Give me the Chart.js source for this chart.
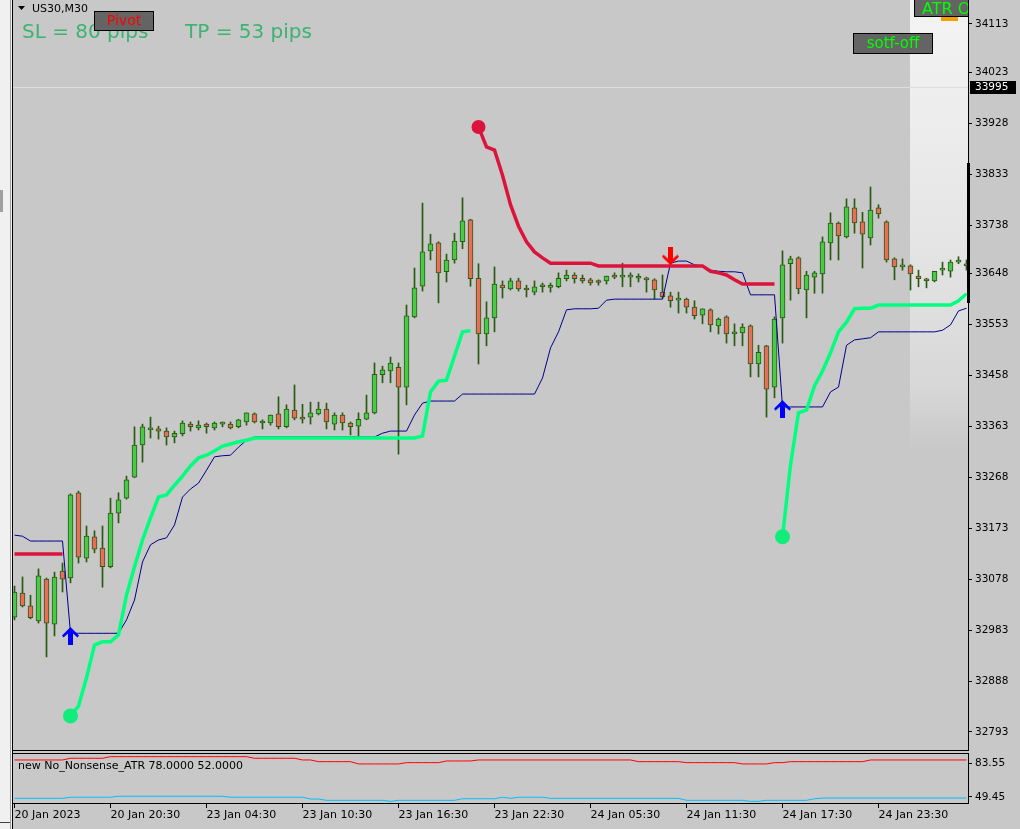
<!DOCTYPE html>
<html>
<head>
<meta charset="utf-8">
<script src="https://cdn.jsdelivr.net/npm/chart.js@4.4.1/dist/chart.umd.min.js"></script>
<style>
  html, body { margin: 0; padding: 0; background: #c8c8c8; width: 1020px; height: 829px; overflow: hidden; }
  canvas { position: absolute; left: 0; display: block; }
  #main { top: 0; }
  #atr { top: 752px; }
</style>
</head>
<body>
<canvas id="main" width="1020" height="752"></canvas>
<canvas id="atr" width="1020" height="77"></canvas>
<script>
// US30 M30 candles, one per bar (bar 0 = 20 Jan 14:30)
const open = [33007,33052,33028,33000,33078,32994,33093,33080,33239,33117,
  33157,33136,33101,33201,33229,33268,33328,33356,33358,33354,
  33343,33349,33367,33360,33367,33360,33367,33367,33362,33371,
  33386,33369,33369,33386,33362,33393,33380,33380,33386,33395,
  33367,33384,33369,33363,33376,33388,33459,33466,33473,33436,
  33567,33624,33690,33705,33651,33673,33707,33748,33639,33535,
  33565,33626,33619,33634,33619,33613,33623,33622,33623,33638,
  33645,33639,33636,33632,33634,33645,33641,33641,33639,33639,
  33636,33613,33606,33598,33600,33585,33570,33580,33550,33567,
  33535,33537,33550,33479,33513,33436,33565,33666,33677,33617,
  33641,33647,33705,33742,33716,33770,33744,33714,33770,33744,
  33675,33660,33662,33643,33638,33634,33654,33652,33669,33666];
const high = [33065,33082,33048,33097,33080,33091,33108,33237,33242,33177,
  33168,33177,33229,33239,33270,33362,33367,33380,33363,33360,
  33354,33373,33371,33373,33369,33371,33371,33371,33376,33388,
  33388,33375,33384,33418,33403,33440,33404,33408,33408,33406,
  33388,33388,33371,33388,33421,33481,33475,33492,33481,33589,
  33658,33779,33721,33707,33684,33723,33789,33749,33666,33595,
  33660,33634,33639,33639,33626,33634,33630,33630,33649,33654,
  33649,33645,33639,33636,33643,33649,33667,33649,33647,33641,
  33638,33645,33613,33613,33602,33597,33582,33582,33565,33569,
  33554,33554,33552,33514,33514,33567,33690,33680,33679,33652,
  33652,33716,33761,33744,33787,33787,33762,33809,33776,33746,
  33677,33675,33664,33654,33639,33652,33669,33673,33679,33673];
const low = [33002,33026,33004,32996,32933,32972,33054,33071,33108,33110,
  33127,33063,33099,33183,33227,33267,33296,33341,33339,33328,
  33332,33345,33354,33356,33350,33356,33362,33358,33360,33365,
  33369,33358,33365,33358,33360,33375,33369,33367,33384,33358,
  33356,33356,33347,33345,33375,33386,33444,33444,33311,33403,
  33565,33615,33673,33593,33632,33667,33694,33624,33479,33513,
  33539,33602,33617,33615,33604,33608,33613,33613,33621,33634,
  33630,33630,33626,33626,33628,33638,33623,33623,33632,33613,
  33600,33602,33585,33574,33574,33563,33554,33539,33535,33518,
  33513,33513,33455,33455,33380,33416,33518,33598,33610,33565,
  33611,33611,33673,33673,33714,33723,33658,33701,33751,33669,
  33636,33654,33617,33623,33621,33632,33645,33641,33666,33654];
const close = [33054,33028,33006,33084,32996,33082,33078,33235,33119,33158,
  33134,33101,33201,33226,33263,33328,33362,33360,33354,33343,
  33350,33369,33362,33365,33362,33369,33368,33360,33375,33388,
  33371,33369,33384,33362,33395,33378,33376,33388,33395,33371,
  33384,33369,33362,33376,33388,33460,33468,33481,33436,33569,
  33621,33688,33703,33649,33673,33708,33746,33638,33535,33565,
  33628,33621,33634,33619,33617,33623,33624,33624,33639,33645,
  33638,33634,33630,33631,33643,33641,33645,33642,33640,33636,
  33617,33604,33597,33599,33585,33569,33582,33552,33563,33535,
  33539,33548,33479,33501,33432,33563,33664,33675,33619,33645,
  33649,33707,33742,33718,33772,33742,33721,33766,33759,33673,
  33660,33661,33647,33638,33634,33652,33655,33669,33670,33662];

// trailing stop (thin blue)
const stopLine = [33160,33158,33149,33149,33149,33149,33149,32977,32977,32977,
  32977,32977,32977,32977,33002,33039,33110,33142,33151,33155,
  33179,33231,33246,33257,33281,33306,33308,33309,33324,33337,
  33343,33343,33343,33343,33343,33343,33343,33343,33343,33343,
  33343,33343,33343,33343,33343,33343,33350,33354,33354,33354,
  33384,33406,33410,33410,33410,33410,33423,33423,33423,33423,
  33423,33423,33423,33423,33423,33423,33453,33509,33539,33580,
  33582,33582,33582,33583,33598,33600,33600,33600,33600,33600,
  33600,33600,33667,33671,33671,33664,33662,33654,33652,33651,
  33651,33649,33608,33608,33608,33608,33399,33399,33399,33399,
  33399,33399,33427,33436,33514,33524,33526,33528,33539,33539,
  33539,33539,33539,33539,33539,33539,33542,33552,33578,33583];

// up trend line (green), down trend line (red)
const upTrend = [null,null,null,null,null,null,null,32823,32841,32894,
  32955,32961,32961,32974,33048,33101,33151,33192,33231,33235,
  33253,33270,33289,33304,33309,33317,33326,33330,33334,33337,
  33341,33341,33341,33341,33341,33341,33341,33341,33341,33341,
  33341,33341,33341,33341,33341,33341,33341,33341,33341,33341,
  33341,33345,33427,33447,33449,33494,33539,33541,null,null,
  null,null,null,null,null,null,null,null,null,null,
  null,null,null,null,null,null,null,null,null,null,
  null,null,null,null,null,null,null,null,null,null,
  null,null,null,null,null,null,33157,33291,33388,33393,
  33438,33466,33500,33539,33557,33582,33583,33583,33589,33589,
  33589,33589,33589,33589,33589,33589,33589,33589,33597,33610];
const downTrend = [33125,33125,33125,33125,33125,33125,33125,null,null,null,
  null,null,null,null,null,null,null,null,null,null,
  null,null,null,null,null,null,null,null,null,null,
  null,null,null,null,null,null,null,null,null,null,
  null,null,null,null,null,null,null,null,null,null,
  null,null,null,null,null,null,null,null,33921,33884,
  33878,33831,33776,33736,33707,33688,33677,33667,33667,33667,
  33667,33667,33667,33662,33662,33662,33662,33662,33662,33662,
  33662,33662,33662,33662,33662,33662,33662,33652,33649,33645,
  33636,33628,33628,33628,33628,33628,null,null,null,null,
  null,null,null,null,null,null,null,null,null,null,
  null,null,null,null,null,null,null,null,null,null];
const upTrendStarts = [7, 96];
const downTrendStarts = [58];

const buyArrowBars = [7, 96];
const buyArrowVals = [32972, 33395];
const sellArrowBars = [82];
const sellArrowVals = [33680];

// No_Nonsense_ATR sub window
const atrUpper = [86.6,86.6,86.6,86.6,86.6,86.6,86.6,88.3,88.3,88.3,
  88.3,88.3,89.9,89.9,89.9,89.9,89.9,89.9,89.9,89.9,
  89.9,89.9,89.9,89.9,89.9,89.9,89.9,89.9,89.9,89.9,
  88.3,88.3,88.3,88.3,88.3,88.3,86.6,86.6,84.9,84.9,
  84.9,84.9,84.9,82.6,82.6,82.6,82.6,82.6,82.6,83.9,
  83.9,83.9,83.9,83.9,85.6,85.6,85.6,85.6,86.6,86.6,
  86.6,86.6,86.6,86.6,86.6,86.6,86.6,86.6,86.6,86.6,
  86.6,86.6,86.6,86.6,86.6,86.6,86.6,86.6,84.9,84.9,
  84.9,84.9,84.9,84.9,83.9,83.9,83.9,83.9,83.9,83.9,
  83.9,82.6,82.6,82.6,82.6,83.9,83.9,84.9,84.9,84.9,
  84.9,84.9,84.9,84.9,84.9,84.9,84.9,86.6,86.6,86.6,
  86.6,86.6,86.6,86.6,86.6,86.6,86.6,86.6,86.6,86.6];
const atrLower = [48.1,48.1,48.1,48.1,48.1,48.1,48.1,49.2,49.2,49.2,
  49.2,49.2,49.2,50.2,50.2,50.2,50.2,50.2,50.2,50.2,
  50.2,50.2,50.2,50.2,50.2,50.2,50.2,49.2,49.2,49.2,
  49.2,49.2,49.2,49.2,49.2,49.2,49.2,47.4,47.4,46.1,
  46.1,46.1,46.1,46.1,46.1,46.1,46.1,45.1,46.1,46.1,
  46.1,46.1,46.1,46.1,46.1,46.1,47.7,47.7,47.7,47.7,
  47.7,49.2,48.1,49.2,49.2,49.2,49.2,48.1,48.1,48.1,
  48.1,48.1,48.1,48.1,48.1,48.1,48.1,48.1,48.1,48.1,
  48.1,48.1,48.1,48.1,46.1,46.1,46.1,46.1,46.1,46.1,
  46.1,46.1,45.1,45.1,46.1,46.1,46.1,46.1,46.1,46.1,
  47.7,48.4,48.4,48.4,48.4,48.4,48.4,48.4,48.4,48.4,
  48.4,48.4,48.4,48.4,48.4,48.4,48.4,48.4,48.4,48.4];

const priceTicks = [32793, 32888, 32983, 33078, 33173, 33268, 33363, 33458, 33553, 33648, 33738, 33833, 33928, 34023, 34113];
const atrTicks = [49.45, 83.55];
const timeTickBars = [0, 12, 24, 36, 48, 60, 72, 84, 96, 108];
const timeLabels = ['20 Jan 2023', '20 Jan 20:30', '23 Jan 04:30', '23 Jan 10:30', '23 Jan 16:30',
  '23 Jan 22:30', '24 Jan 05:30', '24 Jan 11:30', '24 Jan 17:30', '24 Jan 23:30'];
const bidPrice = 33995;

Chart.defaults.font.family = "'DejaVu Sans', sans-serif";
Chart.defaults.color = '#000';

const xMin = -0.1875, xMax = 119.1875;
const FONT = "'DejaVu Sans', sans-serif";
const bullFill = '#4ac84a', bearFill = '#e86e5a', candleLine = '#2a5a10';

function arrowImg(color, up) {
  const c = document.createElement('canvas');
  c.width = 17; c.height = 18;
  const g = c.getContext('2d');
  const pts = [[8.5,0],[17,8.5],[15.5,10.5],[11,6.5],[11,18],[6,18],[6,6.5],[1.5,10.5],[0,8.5]];
  g.fillStyle = color;
  g.beginPath();
  pts.forEach(([px, py], k) => {
    const yy = up ? py : 18 - py;
    if (k === 0) g.moveTo(px, yy); else g.lineTo(px, yy);
  });
  g.closePath();
  g.fill();
  return c;
}

function toXY(arr) { return arr.map((v, i) => ({x: i, y: v})); }

function leftStrip(ctx, h) {
  ctx.fillStyle = '#f0f0f0'; ctx.fillRect(0, 0, 12, h);
  ctx.fillStyle = '#a0a0a0'; ctx.fillRect(10, 0, 1, h);
  ctx.fillStyle = '#000'; ctx.fillRect(12, 0, 1, h);
}

function button(ctx, x, y, w, h, text, color, size, tx, ty, align) {
  ctx.fillStyle = '#646464';
  ctx.fillRect(x, y, w, h);
  ctx.strokeStyle = '#000'; ctx.lineWidth = 1;
  ctx.strokeRect(x + 0.5, y + 0.5, w - 1, h - 1);
  ctx.fillStyle = color;
  ctx.font = size + 'px ' + FONT;
  ctx.textAlign = align; ctx.textBaseline = 'alphabetic';
  ctx.fillText(text, tx, ty);
}

const mainDecor = {
  id: 'mainDecor',
  beforeDraw(chart) {
    const ctx = chart.ctx;
    ctx.save();
    ctx.fillStyle = '#c8c8c8';
    ctx.fillRect(0, 0, chart.width, chart.height);
    ctx.restore();
  },
  beforeDatasetsDraw(chart) {
    const {ctx, chartArea: a, scales: {y}} = chart;
    ctx.save();
    const g = ctx.createLinearGradient(0, 0, 0, 450);
    g.addColorStop(0, '#f4f4f4');
    g.addColorStop(0.5, '#e6e6e6');
    g.addColorStop(0.85, '#d8d8d8');
    g.addColorStop(1, '#c8c8c8');
    ctx.fillStyle = g;
    ctx.fillRect(910, 0, a.right - 910, 450);
    const by = Math.round(y.getPixelForValue(bidPrice)) + 0.5;
    ctx.strokeStyle = '#dedede'; ctx.lineWidth = 1;
    ctx.beginPath(); ctx.moveTo(a.left, by); ctx.lineTo(a.right, by); ctx.stroke();
    ctx.restore();
  },
  afterDatasetsDraw(chart) {
    const {ctx, chartArea: a} = chart;
    ctx.save();
    ctx.beginPath(); ctx.rect(a.left, a.top, a.right - a.left, a.bottom - a.top); ctx.clip();
    // symbol caption
    ctx.fillStyle = '#000';
    ctx.beginPath(); ctx.moveTo(18, 6); ctx.lineTo(25, 6); ctx.lineTo(21.5, 10); ctx.closePath(); ctx.fill();
    ctx.font = '11px ' + FONT; ctx.textBaseline = 'alphabetic'; ctx.textAlign = 'left';
    ctx.fillText('US30,M30', 32, 12);
    // SL / TP
    ctx.fillStyle = '#3cb371';
    ctx.font = '20px ' + FONT;
    ctx.fillText('SL = 80 pips', 22, 38);
    ctx.fillText('TP = 53 pips', 185, 38);
    // buttons
    button(ctx, 94, 11, 60, 20, 'Pivot', '#ff0000', 14, 124, 25, 'center');
    button(ctx, 853, 33, 80, 21, 'sotf-off', '#00ff00', 15, 893, 48, 'center');
    button(ctx, 914, -1, 60, 18, 'ATR O', '#00ff00', 16, 922, 14, 'left');
    ctx.fillStyle = '#f0a000';
    ctx.fillRect(941, 17, 17, 4);
    ctx.restore();
  },
  afterDraw(chart) {
    const {ctx, chartArea: a, scales: {y}} = chart;
    ctx.save();
    leftStrip(ctx, chart.height);
    ctx.fillStyle = '#a0a0a0'; ctx.fillRect(0, 190, 3, 22);
    ctx.fillStyle = '#000';
    ctx.fillRect(12, a.bottom, a.right - 11, 1);
    ctx.fillRect(a.right, 0, 1, a.bottom + 1);
    ctx.fillRect(967, 163, 3, 140);
    // current price tag
    const py = Math.round(y.getPixelForValue(bidPrice));
    ctx.fillRect(970, py - 6, 46, 13);
    ctx.fillStyle = '#fff';
    ctx.font = '10.5px ' + FONT; ctx.textAlign = 'left'; ctx.textBaseline = 'middle';
    ctx.fillText(String(bidPrice), 975, py + 0.5);
    ctx.restore();
  }
};

new Chart(document.getElementById('main'), {
  type: 'bar',
  data: {
    datasets: [
      { type: 'line', label: 'stop', data: toXY(stopLine), borderColor: '#00008b', borderWidth: 1,
        pointRadius: 0, tension: 0, order: 5 },
      { type: 'line', label: 'up', data: toXY(upTrend), borderColor: '#00ff7f', borderWidth: 3.5,
        pointRadius: c => upTrendStarts.includes(c.dataIndex) ? 7.5 : 0,
        pointBackgroundColor: '#12ec7a', pointBorderWidth: 0, tension: 0, spanGaps: false, order: 4 },
      { type: 'line', label: 'down', data: toXY(downTrend), borderColor: '#dc143c', borderWidth: 3.5,
        pointRadius: c => downTrendStarts.includes(c.dataIndex) ? 7 : 0,
        pointBackgroundColor: '#dc143c', pointBorderWidth: 0, tension: 0, spanGaps: false, order: 4 },
      { type: 'scatter', label: 'buy', data: buyArrowBars.map((b, k) => ({x: b, y: buyArrowVals[k]})),
        pointStyle: arrowImg('#0000ff', true), pointRadius: 9, order: 1 },
      { type: 'scatter', label: 'sell', data: sellArrowBars.map((b, k) => ({x: b, y: sellArrowVals[k]})),
        pointStyle: arrowImg('#ff0000', false), pointRadius: 9, order: 1 },
      { label: 'wick', data: low.map((l, i) => ({x: i, y: [l, high[i]]})), backgroundColor: candleLine,
        borderWidth: 0, barThickness: 1, maxBarThickness: 1, minBarLength: 1, grouped: false, order: 10 },
      { label: 'body', data: open.map((o, i) => ({x: i, y: [o, close[i]]})),
        backgroundColor: open.map((o, i) => close[i] >= o ? bullFill : bearFill),
        borderColor: candleLine, borderWidth: 1, borderSkipped: false,
        barThickness: 5, maxBarThickness: 5, minBarLength: 2, grouped: false, order: 9 }
    ]
  },
  options: {
    responsive: false,
    animation: false,
    devicePixelRatio: 1,
    events: [],
    layout: { padding: { left: 13, right: 0, top: 0, bottom: 2 }, autoPadding: false },
    plugins: { legend: { display: false }, tooltip: { enabled: false } },
    scales: {
      x: { type: 'linear', display: false, min: xMin, max: xMax, offset: false, grid: { offset: false } },
      y: {
        position: 'right', min: 32759.4, max: 34157.7,
        afterBuildTicks: s => { s.ticks = priceTicks.map(v => ({value: v})); },
        afterFit: s => { s.width = 52; s.paddingTop = 0; s.paddingBottom = 0; },
        ticks: { color: '#000', font: { size: 10.5 }, padding: 3, callback: v => String(v) },
        grid: { drawOnChartArea: false, drawTicks: true, tickLength: 4, color: '#000' },
        border: { display: false }
      }
    }
  },
  plugins: [mainDecor]
});

const atrDecor = {
  id: 'atrDecor',
  beforeDraw(chart) {
    const ctx = chart.ctx;
    ctx.save();
    ctx.fillStyle = '#c8c8c8';
    ctx.fillRect(0, 0, chart.width, chart.height);
    ctx.restore();
  },
  afterDraw(chart) {
    const {ctx, chartArea: a} = chart;
    ctx.save();
    leftStrip(ctx, chart.height);
    ctx.fillStyle = '#404040'; ctx.fillRect(0, 70, 10, 1);
    ctx.fillStyle = '#000';
    ctx.fillRect(12, a.top - 1, a.right - 11, 1);
    ctx.fillRect(12, a.bottom, a.right - 11, 1);
    ctx.fillRect(a.right, a.top - 1, 1, a.bottom - a.top + 2);
    ctx.font = '11px ' + FONT; ctx.textAlign = 'left'; ctx.textBaseline = 'alphabetic';
    ctx.fillText('new No_Nonsense_ATR 78.0000 52.0000', 18, 17);
    ctx.restore();
  }
};

new Chart(document.getElementById('atr'), {
  type: 'line',
  data: {
    datasets: [
      { label: 'upper', data: toXY(atrUpper), borderColor: '#ff0000', borderWidth: 1, pointRadius: 0, tension: 0 },
      { label: 'lower', data: toXY(atrLower), borderColor: '#00bfff', borderWidth: 1, pointRadius: 0, tension: 0 }
    ]
  },
  options: {
    responsive: false,
    animation: false,
    devicePixelRatio: 1,
    events: [],
    layout: { padding: { left: 13, right: 0, top: 2, bottom: 0 }, autoPadding: false },
    plugins: { legend: { display: false }, tooltip: { enabled: false } },
    scales: {
      x: {
        type: 'linear', min: xMin, max: xMax, offset: false, position: 'bottom',
        afterBuildTicks: s => { s.ticks = timeTickBars.map(v => ({value: v})); },
        afterFit: s => { s.height = 26; s.paddingLeft = 0; s.paddingRight = 0; },
        ticks: { color: '#000', font: { size: 11 }, padding: 1, align: 'start', autoSkip: false,
          maxRotation: 0, minRotation: 0, callback: v => timeLabels[timeTickBars.indexOf(v)] },
        grid: { drawOnChartArea: false, drawTicks: true, tickLength: 5, color: '#000', offset: false },
        border: { display: false }
      },
      y: {
        position: 'right', min: 43.43, max: 92.58,
        afterBuildTicks: s => { s.ticks = atrTicks.map(v => ({value: v})); },
        afterFit: s => { s.width = 52; s.paddingTop = 0; s.paddingBottom = 0; },
        ticks: { color: '#000', font: { size: 10.5 }, padding: 3, callback: v => v.toFixed(2) },
        grid: { drawOnChartArea: false, drawTicks: true, tickLength: 4, color: '#000' },
        border: { display: false }
      }
    }
  },
  plugins: [atrDecor]
});
</script>
</body>
</html>
